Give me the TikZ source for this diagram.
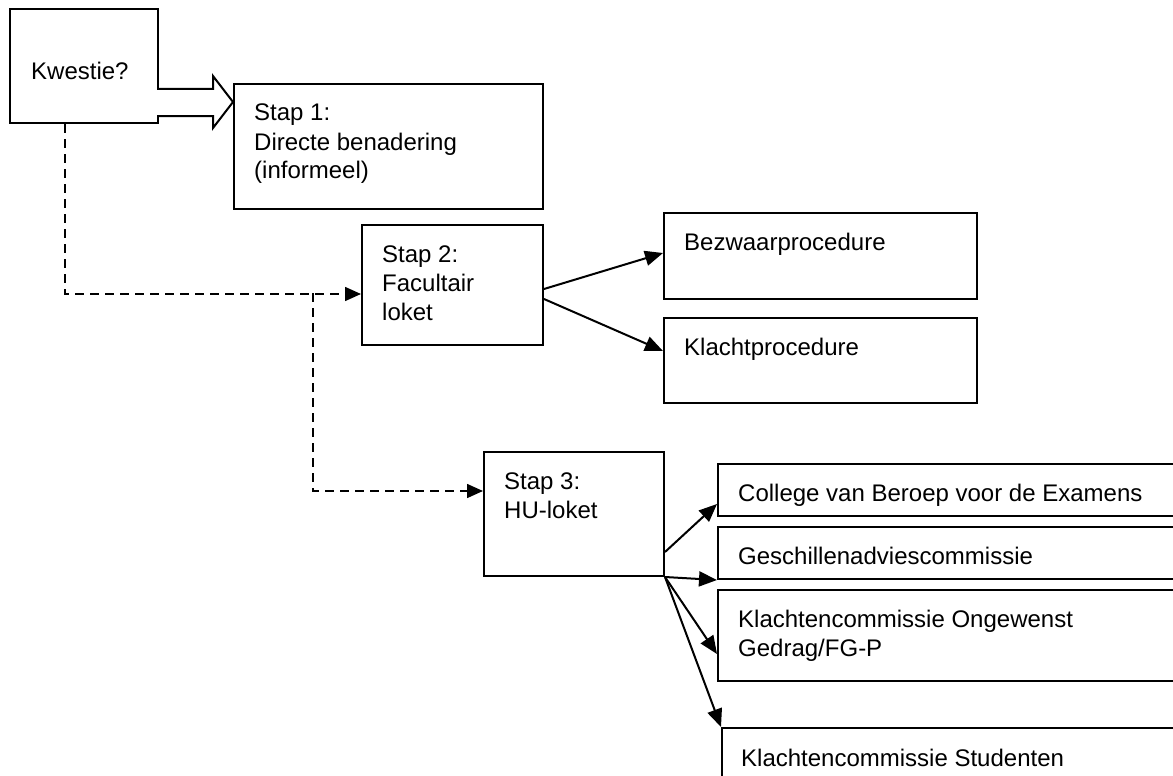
\documentclass[tikz,border=0pt]{standalone}
\usepackage{fontspec}
\setmainfont{Liberation Sans}
\usetikzlibrary{positioning,arrows.meta,calc}

% lines of a box text, baseline on the first line
\newcommand{\boxlines}[1]{\begin{tabular}[t]{@{}l@{}}#1\end{tabular}}

\begin{document}
\begin{tikzpicture}[x=1pt, y=-1pt, font=\fontsize{24}{29}\selectfont,
    box/.style 2 args={draw, line width=2pt, anchor=north west, inner sep=0pt, minimum width=#1, minimum height=#2},
    lbl/.style={anchor=base west, inner sep=0pt},
    txt/.style={lbl, xshift=21pt, yshift=-38pt},
    conn/.style={line width=2pt, -{Triangle[length=18pt, width=15pt]}},
    dconn/.style={line width=1.6pt, dash pattern=on 9pt off 6pt, -{Triangle[length=16pt, width=14pt]}}]
    \clip (0,0) rectangle (1173,776);

    % Start and the three steps
    \node[box={148pt}{114pt}, label={[lbl, xshift=22pt, yshift=-72pt]north west:Kwestie?}] (kw) at (9,8) {};
    \node[box={309pt}{125pt}, label={[txt]north west:\boxlines{Stap 1:\\Directe benadering\\(informeel)}}] (s1) at (233,83) {};
    \node[box={181pt}{120pt}, label={[txt]north west:\boxlines{Stap 2:\\Facultair\\loket}}] (s2) at (361,224) {};
    \node[box={180pt}{124pt}, label={[txt]north west:\boxlines{Stap 3:\\HU-loket}}] (s3) at (483,451) {};

    % Procedures after step 2
    \node[box={313pt}{86pt}, label={[txt]north west:Bezwaarprocedure}] (bez) at (663,212) {};
    \node[box={313pt}{85pt}, label={[txt]north west:Klachtprocedure}, below=17pt of bez] (kp) {};

    % Commissions after step 3
    \node[box={480pt}{52pt}, label={[txt]north west:College van Beroep voor de Examens}] (cbe) at (717,463) {};
    \node[box={480pt}{52pt}, label={[txt]north west:Geschillenadviescommissie}, below=9pt of cbe] (geb) {};
    \node[box={480pt}{91pt}, label={[txt]north west:\boxlines{Klachtencommissie Ongewenst\\Gedrag/FG-P}}, below=9pt of geb] (kog) {};
    \node[box={480pt}{80pt}, label={[lbl, xshift=20pt, yshift=-39pt]north west:Klachtencommissie Studenten}] (kst) at (721,727) {};

    % Hollow arrow to step 1
    \draw[line width=2pt, fill=white] (157,89) -- (213,89) -- (213,76) -- (s1.west |- 0,102)
        -- (213,128) -- (213,116) -- (157,116);

    % Dashed routes
    \coordinate (kwdash) at ([xshift=-19pt]kw.south);
    \coordinate (s2in) at ([yshift=-9pt]s2.west);
    \coordinate (split) at (313,293);
    \coordinate (s3in) at ([yshift=23pt]s3.west);
    \draw[dconn] (kwdash) |- (s2in);
    \draw[dconn] (split) |- (s3in);

    % Step 2 outputs
    \draw[conn] ([yshift=-4pt]s2.east) -- ([yshift=3pt]bez.west);
    \draw[conn] ([yshift=-14pt]s2.east) -- ([yshift=9.5pt]kp.west);

    % Step 3 outputs
    \coordinate (kogin) at ([yshift=28pt]kog.south west);
    \draw[conn] ([yshift=25pt]s3.south east) -- ([yshift=13pt]cbe.south west);
    \foreach \t in {geb.south west, kogin, kst.north west} {
        \draw[conn] (s3.south east) -- (\t);
    }
\end{tikzpicture}
\end{document}
